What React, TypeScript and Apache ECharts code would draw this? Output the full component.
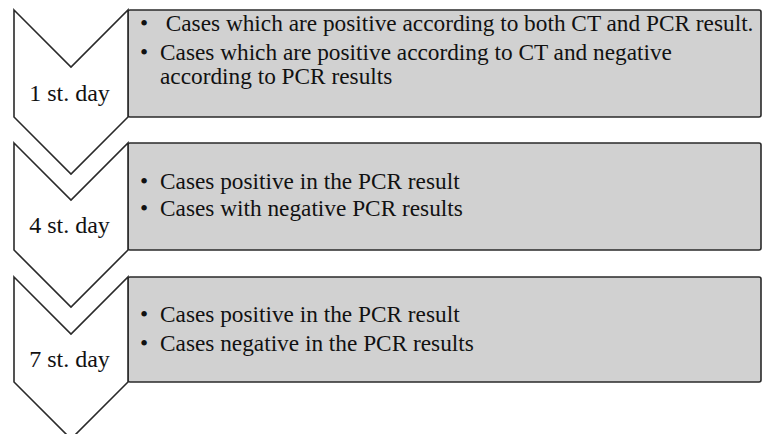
import React, { useEffect, useRef } from "react";
import * as echarts from "echarts";

const dayLabels = ["1 st. day", "4 st. day", "7 st. day"];
// each bullet item is a list of its text lines
const stageBullets: string[][][] = [
  [
    ["Cases which are positive according to both CT and PCR result."],
    ["Cases which are positive according to CT and negative", "according to PCR results"],
  ],
  [["Cases positive in the PCR result"], ["Cases with negative PCR results"]],
  [["Cases positive in the PCR result"], ["Cases negative in the PCR results"]],
];
const stageTops = [10, 143, 277];
const stageBottoms = [117, 250, 382];
// vertical centre of each bullet's first line, measured from the box top
const bulletOffsets = [
  [13, 41.7],
  [38, 64.5],
  [37, 65.5],
];
const labelOffsets = [24, 25, 23];

const FONT = "'Liberation Serif', 'Times New Roman', serif";
const TEXT_SIZE = 23.3;
const LABEL_SIZE = 24;
const LINE_GAP = 23.8;

export default function App() {
  const ref = useRef<HTMLDivElement>(null);
  useEffect(() => {
    if (!ref.current) return;
    const chart = echarts.init(ref.current, null, { renderer: "svg" });
    const elements: any[] = [];
    const left = 14;
    const right = 128;
    const mid = (left + right) / 2;
    const half = (right - left) / 2;
    dayLabels.forEach((label, i) => {
      const top = stageTops[i];
      const bottom = stageBottoms[i];
      elements.push({
        type: "rect",
        shape: { x: right, y: top, width: 762 - right - 1, height: bottom - top, r: 2 },
        style: { fill: "#d1d1d1", stroke: "#2a2a2a", lineWidth: 1.6 },
        z: 1,
      });
      elements.push({
        type: "polygon",
        shape: {
          points: [
            [left, top],
            [mid, top + half],
            [right, top],
            [right, bottom],
            [mid, bottom + half],
            [left, bottom],
          ],
        },
        style: { fill: "#ffffff", stroke: "#2a2a2a", lineWidth: 1.6 },
        z: 2,
      });
      elements.push({
        type: "text",
        x: mid - 1.5,
        y: bottom - labelOffsets[i],
        style: {
          text: label,
          fill: "#111",
          font: `${LABEL_SIZE}px ${FONT}`,
          align: "center",
          verticalAlign: "middle",
        },
        z: 3,
      });
      stageBullets[i].forEach((lines, j) => {
        const y0 = top + bulletOffsets[i][j];
        elements.push({
          type: "text",
          x: 144,
          y: y0,
          style: {
            text: "•",
            fill: "#111",
            font: `${TEXT_SIZE}px ${FONT}`,
            align: "center",
            verticalAlign: "middle",
          },
          z: 3,
        });
        lines.forEach((line, k) => {
          elements.push({
            type: "text",
            x: i === 0 && j === 0 ? 165.7 : 160,
            y: y0 + k * LINE_GAP,
            style: {
              text: line,
              fill: "#111",
              font: `${TEXT_SIZE}px ${FONT}`,
              align: "left",
              verticalAlign: "middle",
            },
            z: 3,
          });
        });
      });
    });
    chart.setOption({
      animation: false,
      backgroundColor: "#ffffff",
      graphic: { elements },
    });
    return () => chart.dispose();
  }, []);
  return (
    <div
      ref={ref}
      style={{ position: "fixed", left: 0, top: 0, width: 763, height: 434 }}
    />
  );
}
